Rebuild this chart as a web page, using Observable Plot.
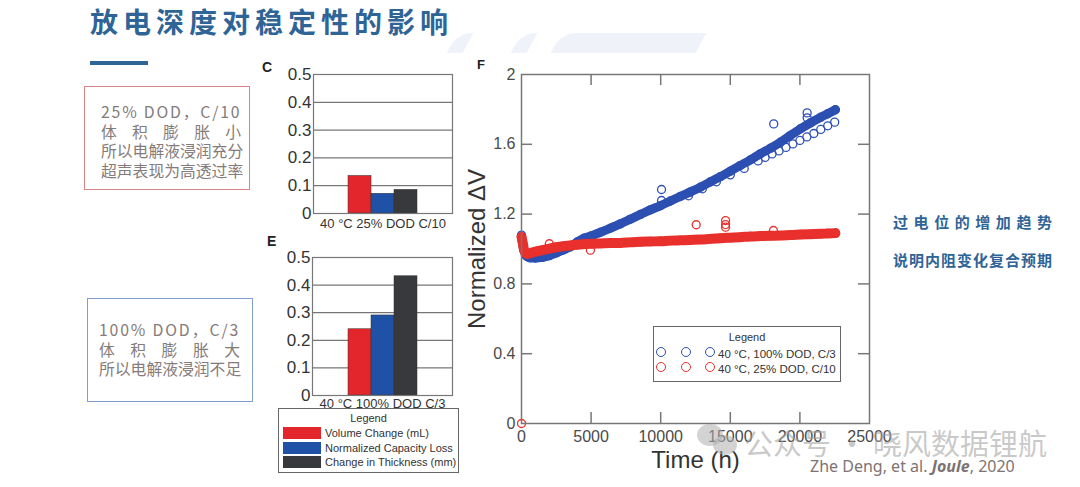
<!DOCTYPE html>
<html><head><meta charset="utf-8">
<script src="https://cdn.jsdelivr.net/npm/d3@7"></script>
<script src="https://cdn.jsdelivr.net/npm/@observablehq/plot@0.6"></script>
<style>
body{margin:0;background:#fff;}
#page{position:relative;width:1080px;height:487px;overflow:hidden;background:#fff;font-family:"Liberation Sans",Arial,sans-serif;}
.abs{position:absolute;}
.cjk{font-family:"Noto Sans CJK SC","Noto Sans",sans-serif;}
.deco{position:absolute;background:#eff3f9;transform:skewX(-28deg);border-radius:14px 0 0 0;}
.box{position:absolute;box-sizing:border-box;border:1.5px solid;}
.box .ln{font-family:"Noto Sans CJK SC",sans-serif;font-size:15.8px;line-height:19.5px;color:#857b7b;text-align:justify;text-align-last:justify;white-space:nowrap;}
.rt{font-family:"Noto Sans CJK SC",sans-serif;font-weight:700;font-size:15px;line-height:20px;color:#2f6496;text-align:justify;text-align-last:justify;width:159px;}
.plab{position:absolute;font-weight:700;font-size:14px;color:#222;font-family:"Liberation Sans",Arial,sans-serif;}
.leg{position:absolute;box-sizing:border-box;border:1.5px solid #666;background:#fff;font-family:"Liberation Sans",Arial,sans-serif;color:#333;}
.leg .t{position:absolute;left:0;right:0;text-align:center;font-size:11px;}
.leg .sw{position:absolute;}
.leg .tx{position:absolute;font-size:11px;line-height:12px;white-space:nowrap;}
.leg .c{position:absolute;width:8px;height:8px;border:1.5px solid;border-radius:50%;}
</style></head><body>
<div id="page">
  <div class="deco" style="left:452px;top:33px;width:16px;height:20px;"></div>
  <div class="deco" style="left:516px;top:33px;width:16px;height:20px;"></div>
  <div class="deco" style="left:556px;top:33px;width:145px;height:20px;"></div>

  <div class="abs cjk" style="left:90px;top:6px;font-size:28px;line-height:30px;font-weight:700;color:#2f6496;letter-spacing:5px;white-space:nowrap;">放电深度对稳定性的影响</div>
  <div class="abs" style="left:90px;top:61px;width:58px;height:4px;background:#2f6496;"></div>

  <div class="box" style="left:84px;top:86px;width:166px;height:104px;border-color:#d98388;padding:15px 8px 0 16px;">
    <div class="ln" style="letter-spacing:1.8px;">25% DOD，C/10</div>
    <div class="ln">体 积 膨 胀 小</div>
    <div class="ln">所以电解液浸润充分</div>
    <div class="ln">超声表现为高透过率</div>
  </div>
  <div class="box" style="left:87px;top:298px;width:166px;height:104px;border-color:#7f9fd2;padding:21px 12px 0 11px;">
    <div class="ln" style="letter-spacing:1.8px;">100% DOD，C/3</div>
    <div class="ln">体 积 膨 胀 大</div>
    <div class="ln">所以电解液浸润不足</div>
  </div>

  <div class="abs rt" style="left:893px;top:212px;">过 电 位 的 增 加 趋 势</div>
  <div class="abs rt" style="left:893px;top:250px;">说明内阻变化复合预期</div>

  <div id="chartC" class="abs" style="left:250px;top:50px;"></div>
  <div id="chartE" class="abs" style="left:250px;top:225px;"></div>
  <div id="chartF" class="abs" style="left:460px;top:50px;"></div>

  <div class="plab" style="left:262px;top:59px;">C</div>
  <div class="plab" style="left:267px;top:233px;">E</div>
  <div class="plab" style="left:477px;top:57px;font-size:13px;">F</div>

  <div id="legE" class="leg" style="left:278px;top:408px;width:181px;height:65px;"></div>
  <div id="legF" class="leg" style="left:653px;top:326px;width:188px;height:56px;"></div>

  <div class="abs" style="left:697px;top:424px;width:26px;height:22px;border-radius:50%;background:rgba(175,175,175,0.55);"></div>
  <div class="abs" style="left:713px;top:435px;width:24px;height:20px;border-radius:50%;background:rgba(175,175,175,0.55);"></div>
  <div class="abs cjk" style="left:744px;top:424px;font-size:29px;line-height:36px;color:rgba(165,165,165,0.6);white-space:nowrap;">公众号 · 晓风数据锂航</div>

  <div class="abs" style="left:810px;top:455px;font-family:'Noto Sans',sans-serif;font-size:16px;line-height:22px;color:#7d7373;white-space:nowrap;">Zhe Deng, et al. <b><i>Joule</i></b>, 2020</div>
</div>
<script>
// ---- Bar charts C and E ----
const barSeries = ["Volume Change (mL)", "Normalized Capacity Loss", "Change in Thickness (mm)"];
const barColors = ["#e3262c", "#1f52a6", "#38393c"];
const valuesC = [0.135, 0.071, 0.085];
const valuesE = [0.24, 0.29, 0.432];
const barTicks = [0, 0.1, 0.2, 0.3, 0.4, 0.5];
const barGrid = [0.1, 0.2, 0.3, 0.4];
const labelC = "40 °C 25% DOD C/10";
const labelE = "40 °C 100% DOD C/3";

// ---- Chart F ----
const fXTicks = [0, 5000, 10000, 15000, 20000, 25000];
const fYTicks = [0, 0.4, 0.8, 1.2, 1.6, 2];
const fInnerX = [5000, 10000, 15000, 20000];
const fInnerY = [0.4, 0.8, 1.2, 1.6];
const seriesF = ["40 °C, 100% DOD, C/3", "40 °C, 25% DOD, C/10"];
const colorsF = ["#2c4fb2", "#e8302c"];

const blueHours = [0,150,300,600,1000,1500,2000,2500,3000,3500,4000,4500,5000,5700,6400,7100,7800,8550,9250,10000,10700,11400,12100,12850,13550,14300,15000,15700,16450,17150,17900,18600,19300,20050,20750,21500,22000,22550];
const blueValues = [1.07,1.00,0.965,0.950,0.948,0.952,0.962,0.978,0.995,1.012,1.040,1.062,1.075,1.097,1.120,1.144,1.170,1.198,1.224,1.249,1.275,1.301,1.326,1.354,1.384,1.415,1.446,1.478,1.511,1.545,1.578,1.612,1.650,1.689,1.722,1.755,1.775,1.798];
const blueLowHours = [12000,13000,14000,15000,16000,17000,17500,18000,18500,19000,19500,20000,20500,21000,21500,22000,22500];
const blueLowValues = [1.305,1.345,1.385,1.425,1.462,1.505,1.525,1.545,1.562,1.582,1.602,1.622,1.642,1.662,1.685,1.706,1.727];
const blueOutHours = [0,10060,10060,18120,20520,20520];
const blueOutValues = [1.08,1.341,1.278,1.717,1.780,1.752];

const redHours = [0,100,200,400,700,1000,1500,2000,2500,3000,3500,4200,5000,5700,6400,7100,7800,8550,9250,10000,10700,11400,12100,12850,13550,14300,15000,15700,16450,17150,17900,18600,19300,20050,20750,21500,22000,22550];
const redValues = [1.07,1.03,0.99,0.972,0.978,0.985,0.993,1.002,1.010,1.016,1.020,1.026,1.030,1.032,1.034,1.035,1.038,1.041,1.043,1.045,1.048,1.050,1.052,1.054,1.058,1.062,1.065,1.068,1.072,1.074,1.076,1.077,1.080,1.083,1.085,1.087,1.089,1.091];
const redOutHours = [0,2000,4950,12550,14660,14660,14660,18100];
const redOutValues = [0,1.03,0.993,1.139,1.163,1.140,1.125,1.106];

const FONT = "'Liberation Sans', Arial, sans-serif";
const fmtBar = d => d === 0 ? "0" : d.toFixed(1);

function barChart(values, xLabel, height, marginLeft, marginTop, marginBottom, labelDy) {
  const data = barSeries.map((s, i) => ({s, v: values[i]}));
  return Plot.plot({
    width: 220, height, marginLeft, marginRight: 18, marginTop, marginBottom,
    style: {fontFamily: FONT, color: "#333", background: "transparent", overflow: "visible"},
    x: {domain: barSeries, paddingInner: 0, paddingOuter: 1.5, axis: null},
    y: {domain: [0, 0.5], label: null},
    color: {domain: barSeries, range: barColors},
    marks: [
      Plot.ruleY(barGrid, {stroke: "#555", strokeWidth: 1}),
      Plot.barY(data, {x: "s", y: "v", fill: "s", stroke: "#333", strokeWidth: 0.5}),
      Plot.frame({stroke: "#777", strokeWidth: 1.2}),
      Plot.axisY(barTicks, {tickSize: 0, tickPadding: 2, fontSize: 17, label: null, fill: "#333", tickFormat: fmtBar}),
      Plot.text([xLabel], {frameAnchor: "bottom", dy: labelDy, lineAnchor: "middle", textAnchor: "middle", fontSize: 13, fill: "#333"})
    ]
  });
}

document.getElementById("chartC").append(barChart(valuesC, labelC, 180, 63, 24, 17, 10));
document.getElementById("chartE").append(barChart(valuesE, labelE, 185, 62, 32, 15, 8));

// legend E
const legE = document.getElementById("legE");
legE.innerHTML = `<div class="t" style="top:3px;">Legend</div>` + barSeries.map((s, i) =>
  `<div class="sw" style="left:4px;top:${18 + i * 14.5}px;width:38px;height:12px;background:${barColors[i]};"></div>` +
  `<div class="tx" style="left:46px;top:${18 + i * 14.5}px;">${s}</div>`).join("");

// legend F
const legF = document.getElementById("legF");
legF.innerHTML = `<div class="t" style="top:4px;">Legend</div>` + seriesF.map((s, i) =>
  [9, 34, 58].map(cx => `<div class="c" style="left:${cx - 7}px;top:${20 + i * 15}px;border-color:${colorsF[i]};"></div>`).join("") +
  `<div class="tx" style="left:64px;top:${21 + i * 15}px;font-size:11.5px;">${s}</div>`).join("");

// chart F
const zip = (hs, vs) => hs.map((h, i) => ({h, v: vs[i]}));
const blueMain = zip(blueHours, blueValues);
const blueLow = zip(blueLowHours, blueLowValues);
const blueOut = zip(blueOutHours, blueOutValues);
const redMain = zip(redHours, redValues);
const redOut = zip(redOutHours, redOutValues);

const FW = 420, FH = 430, FML = 61, FMR = 11, FMT = 24, FMB = 57;
const fw = FW - FML - FMR, fh = FH - FMT - FMB, tickLen = 11;
const dotOpts = (c) => ({x: "h", y: "v", r: 4, stroke: c, strokeWidth: 1.3});
const chartF = Plot.plot({
  width: FW, height: FH, marginLeft: FML, marginRight: FMR, marginTop: FMT, marginBottom: FMB,
  style: {fontFamily: FONT, color: "#444", background: "transparent", overflow: "visible"},
  x: {domain: [0, 25000], label: null},
  y: {domain: [0, 2], label: null},
  marks: [
    Plot.line(blueMain, {x: "h", y: "v", stroke: colorsF[0], strokeWidth: 9, curve: "monotone-x"}),
    Plot.dot(blueMain, dotOpts(colorsF[0])),
    Plot.dot(blueLow, dotOpts(colorsF[0])),
    Plot.dot(blueOut, dotOpts(colorsF[0])),
    Plot.line(redMain, {x: "h", y: "v", stroke: colorsF[1], strokeWidth: 10, curve: "monotone-x"}),
    Plot.dot(redMain, dotOpts(colorsF[1])),
    Plot.dot(redOut, dotOpts(colorsF[1])),
    Plot.frame({stroke: "#777", strokeWidth: 1.5}),
    Plot.tickY(fInnerY, {y: d => d, insetRight: fw - tickLen, stroke: "#777", strokeWidth: 1.5}),
    Plot.tickY(fInnerY, {y: d => d, insetLeft: fw - tickLen, stroke: "#777", strokeWidth: 1.5}),
    Plot.tickX(fInnerX, {x: d => d, insetTop: fh - tickLen, stroke: "#777", strokeWidth: 1.5}),
    Plot.tickX(fInnerX, {x: d => d, insetBottom: fh - tickLen, stroke: "#777", strokeWidth: 1.5}),
    Plot.axisX(fXTicks, {tickSize: 0, tickPadding: 7, fontSize: 16, label: null, fill: "#4a4a4a", tickFormat: d => String(d)}),
    Plot.axisY(fYTicks, {tickSize: 0, tickPadding: 6, fontSize: 16, label: null, fill: "#4a4a4a", tickFormat: d => String(d)}),
    Plot.text(["Time (h)"], {frameAnchor: "bottom", dy: 37, lineAnchor: "middle", textAnchor: "middle", fontSize: 24, fill: "#333"}),
    Plot.text(["Normalized ΔV"], {frameAnchor: "left", dx: -44, rotate: -90, lineAnchor: "middle", textAnchor: "middle", fontSize: 24, fill: "#333"})
  ]
});
document.getElementById("chartF").append(chartF);
</script>
</body></html>
